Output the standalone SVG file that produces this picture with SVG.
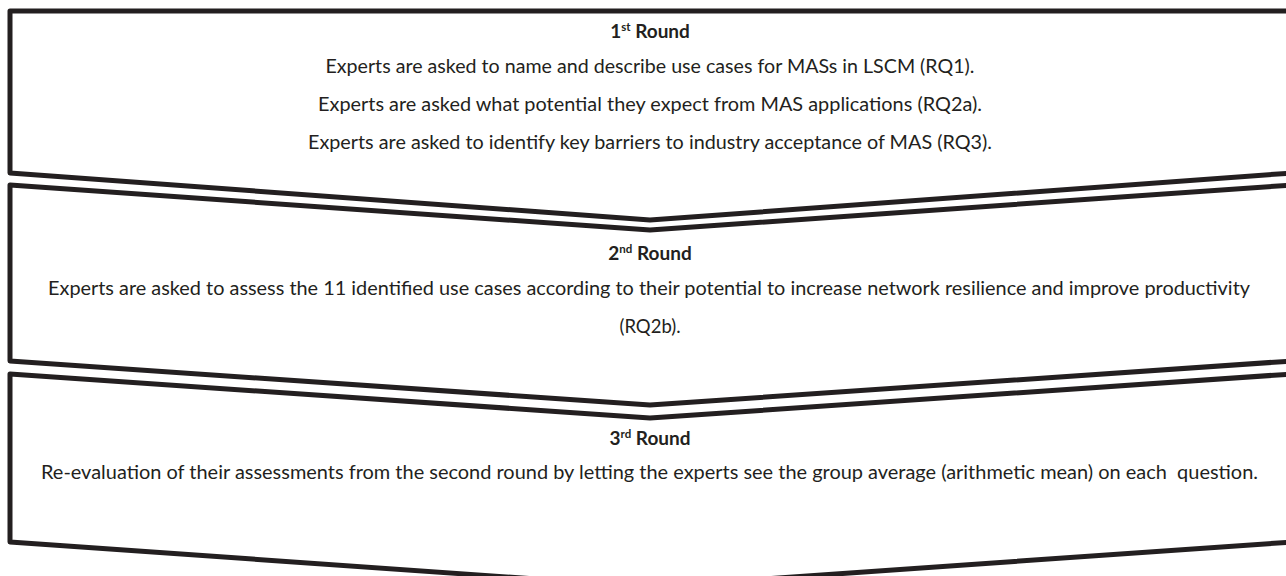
<svg xmlns="http://www.w3.org/2000/svg" width="1286" height="576" viewBox="0 0 1286 576">
<style>
.box{fill:#fff;stroke:#231f20;stroke-width:5;stroke-linejoin:round}
.t{font-family:Lato,"Open Sans","Liberation Sans",sans-serif;font-size:18.5px;fill:#231f20;text-anchor:middle}
.h{font-weight:bold;font-size:19px}
.sup{font-size:11.5px}
</style>
<rect width="1286" height="576" fill="#fff"/>
<g id="round1">
<polygon class="box" points="10,11 1292,11 1292,173 650,220 10,173"/>
<text class="t h" x="650" y="38">1<tspan class="sup" dy="-7">st</tspan><tspan dy="7"> Round</tspan></text>
<text class="t" x="650" y="73" textLength="649" lengthAdjust="spacingAndGlyphs">Experts are asked to name and describe use cases for MASs in LSCM (RQ1).</text>
<text class="t" x="650" y="111" textLength="664" lengthAdjust="spacingAndGlyphs">Experts are asked what potential they expect from MAS applications (RQ2a).</text>
<text class="t" x="650" y="149" textLength="684" lengthAdjust="spacingAndGlyphs">Experts are asked to identify key barriers to industry acceptance of MAS (RQ3).</text>
</g>
<g id="round2">
<polygon class="box" points="10,185 650,230 1292,185 1292,361 650,405 10,361"/>
<text class="t h" x="650" y="260">2<tspan class="sup" dy="-7">nd</tspan><tspan dy="7"> Round</tspan></text>
<text class="t" x="649" y="295" textLength="1202" lengthAdjust="spacingAndGlyphs">Experts are asked to assess the 11 identified use cases according to their potential to increase network resilience and improve productivity</text>
<text class="t" x="650" y="333">(RQ2b).</text>
</g>
<g id="round3">
<polygon class="box" points="10,374 650,418 1292,374 1292,542 650,587 10,542"/>
<text class="t h" x="650" y="445">3<tspan class="sup" dy="-7">rd</tspan><tspan dy="7"> Round</tspan></text>
<text class="t" x="649.5" y="479" textLength="1217" lengthAdjust="spacingAndGlyphs" xml:space="preserve">Re-evaluation of their assessments from the second round by letting the experts see the group average (arithmetic mean) on each  question.</text>
</g>
<g id="connectors"></g>
</svg>
